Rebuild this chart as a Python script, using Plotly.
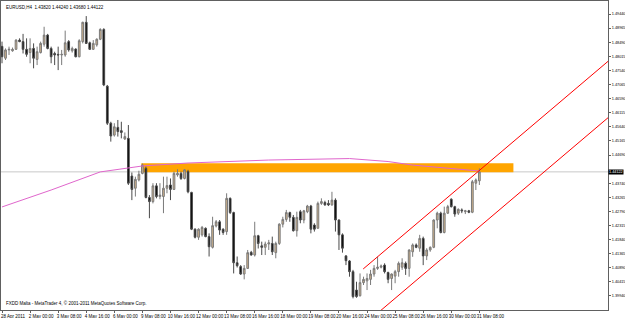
import plotly.graph_objects as go

# ---------------- data (EURUSD H4) ----------------
bars = list(range(137))
open_ = [1.4835,1.4795,1.4823,1.4820,1.4825,1.4856,1.4851,1.4825,1.4814,1.4828,
         1.4791,1.4814,1.4842,1.4873,1.4828,1.4811,1.4808,1.4806,1.4806,1.4851,
         1.4820,1.4826,1.4800,1.4851,1.4916,1.4847,1.4825,1.4840,1.4859,1.4892,
         1.4701,1.4576,1.4536,1.4562,1.4551,1.4523,1.4525,1.4398,1.4357,1.4385,
         1.4407,1.4424,1.4326,1.4312,1.4365,1.4329,1.4329,1.4357,1.4368,1.4353,
         1.4402,1.4407,1.4390,1.4413,1.4343,1.4219,1.4192,1.4200,1.4222,1.4194,
         1.4158,1.4230,1.4244,1.4219,1.4211,1.4323,1.4275,1.4106,1.4093,1.4068,
         1.4087,1.4141,1.4132,1.4197,1.4163,1.4158,1.4169,1.4171,1.4140,1.4171,
         1.4236,1.4252,1.4275,1.4259,1.4214,1.4278,1.4250,1.4278,1.4297,1.4233,
         1.4222,1.4306,1.4309,1.4306,1.4301,1.4317,1.4250,1.4200,1.4129,1.4112,
         1.4076,1.4014,1.3995,1.4039,1.4045,1.4050,1.4068,1.4087,1.4091,1.4098,
         1.4073,1.4053,1.4061,1.4076,1.4091,1.4104,1.4087,1.4143,1.4166,1.4155,
         1.4188,1.4129,1.4149,1.4158,1.4250,1.4273,1.4208,1.4273,1.4320,1.4295,
         1.4273,1.4284,1.4278,1.4281,1.4276,1.4374,1.4382]
high = [1.4851,1.4828,1.4834,1.4831,1.4859,1.4862,1.4877,1.4862,1.4862,1.4845,
        1.4834,1.4851,1.4901,1.4877,1.4834,1.4817,1.4834,1.4823,1.4888,1.4856,
        1.4834,1.4828,1.4859,1.4918,1.4937,1.4851,1.4856,1.4862,1.4896,1.4896,
        1.4705,1.4581,1.4576,1.4587,1.4581,1.4545,1.4570,1.4410,1.4396,1.4416,
        1.4440,1.4430,1.4334,1.4374,1.4374,1.4374,1.4396,1.4396,1.4390,1.4413,
        1.4421,1.4413,1.4421,1.4419,1.4345,1.4222,1.4222,1.4230,1.4225,1.4205,
        1.4261,1.4250,1.4250,1.4222,1.4340,1.4326,1.4278,1.4127,1.4098,1.4098,
        1.4149,1.4146,1.4244,1.4200,1.4177,1.4177,1.4183,1.4194,1.4177,1.4239,
        1.4261,1.4284,1.4278,1.4267,1.4278,1.4284,1.4284,1.4301,1.4301,1.4239,
        1.4312,1.4323,1.4315,1.4317,1.4345,1.4323,1.4252,1.4205,1.4132,1.4115,
        1.4082,1.4042,1.4070,1.4059,1.4070,1.4082,1.4098,1.4126,1.4100,1.4104,
        1.4076,1.4070,1.4082,1.4110,1.4121,1.4110,1.4151,1.4171,1.4171,1.4200,
        1.4194,1.4155,1.4161,1.4252,1.4278,1.4278,1.4295,1.4301,1.4323,1.4298,
        1.4289,1.4289,1.4284,1.4284,1.4385,1.4390,1.4424]
low = [1.4778,1.4789,1.4806,1.4817,1.4823,1.4849,1.4811,1.4800,1.4778,1.4761,
       1.4772,1.4811,1.4834,1.4825,1.4778,1.4772,1.4755,1.4772,1.4800,1.4817,
       1.4814,1.4798,1.4798,1.4845,1.4843,1.4823,1.4823,1.4834,1.4856,1.4701,
       1.4570,1.4514,1.4531,1.4531,1.4525,1.4520,1.4368,1.4317,1.4329,1.4380,
       1.4404,1.4323,1.4256,1.4306,1.4323,1.4320,1.4273,1.4340,1.4317,1.4351,
       1.4396,1.4385,1.4387,1.4340,1.4216,1.4188,1.4183,1.4194,1.4192,1.4127,
       1.4154,1.4225,1.4200,1.4200,1.4200,1.4270,1.4070,1.4090,1.4065,1.4050,
       1.4085,1.4130,1.4127,1.4154,1.4132,1.4132,1.4149,1.4132,1.4121,1.4166,
       1.4225,1.4244,1.4244,1.4211,1.4194,1.4239,1.4239,1.4273,1.4205,1.4211,
       1.4222,1.4301,1.4298,1.4297,1.4298,1.4211,1.4149,1.4140,1.4098,1.4059,
       1.3986,1.3988,1.3992,1.4031,1.4014,1.4031,1.4059,1.4082,1.4087,1.4070,
       1.4037,1.4014,1.4037,1.4059,1.4082,1.4065,1.4059,1.4126,1.4155,1.4143,
       1.4098,1.4115,1.4143,1.4155,1.4222,1.4205,1.4205,1.4270,1.4292,1.4261,
       1.4267,1.4273,1.4270,1.4273,1.4273,1.4351,1.4368]
close = [1.4800,1.4823,1.4825,1.4825,1.4856,1.4851,1.4825,1.4808,1.4828,1.4795,
         1.4817,1.4845,1.4873,1.4828,1.4800,1.4806,1.4806,1.4808,1.4847,1.4823,
         1.4828,1.4800,1.4854,1.4916,1.4845,1.4825,1.4845,1.4859,1.4892,1.4705,
         1.4576,1.4533,1.4564,1.4548,1.4545,1.4531,1.4374,1.4353,1.4387,1.4404,
         1.4435,1.4326,1.4312,1.4365,1.4329,1.4334,1.4357,1.4366,1.4353,1.4407,
         1.4407,1.4390,1.4419,1.4345,1.4219,1.4192,1.4219,1.4225,1.4194,1.4160,
         1.4231,1.4244,1.4216,1.4208,1.4323,1.4275,1.4106,1.4096,1.4068,1.4087,
         1.4140,1.4132,1.4197,1.4171,1.4158,1.4169,1.4173,1.4143,1.4171,1.4236,
         1.4252,1.4275,1.4259,1.4214,1.4259,1.4250,1.4281,1.4297,1.4219,1.4219,
         1.4306,1.4312,1.4301,1.4301,1.4317,1.4250,1.4200,1.4155,1.4113,1.4076,
         1.3992,1.3992,1.4039,1.4050,1.4053,1.4068,1.4087,1.4091,1.4095,1.4076,
         1.4050,1.4068,1.4076,1.4104,1.4106,1.4087,1.4149,1.4166,1.4158,1.4188,
         1.4129,1.4149,1.4158,1.4250,1.4273,1.4208,1.4273,1.4295,1.4295,1.4270,
         1.4286,1.4281,1.4281,1.4276,1.4379,1.4385,1.44122]

# moving average readings (bar index, price)
ma_bars = [0, 14, 28, 40, 53, 76, 99, 110, 117, 127, 136]
ma_vals = [1.4294, 1.4351, 1.4412, 1.4432, 1.4442, 1.4452, 1.4457, 1.4447, 1.4435, 1.4424, 1.4415]

# orange resistance zone
zone_bars = [39.7, 145.7]
zone_prices = [1.44107, 1.44410]

# equidistant channel (start/end bar, prices)
chan_bars = [102.9, 173.2]
chan_upper = [1.4085, 1.4790]
chan_lower = [1.3895, 1.4600]

current_price = 1.44122
title_text = "EURUSD,H4  1.43820 1.44240 1.43680 1.44122"
footer_text = "FXDD Malta - MetaTrader 4, © 2001-2011 MetaQuotes Software Corp."

date_ticks = [0, 8, 16, 24, 32, 40, 48, 56, 64, 72, 80, 88, 96, 104, 112, 120, 128, 136]
date_labels = ["28 Apr 2011", "2 May 00:00", "3 May 08:00", "4 May 16:00", "6 May 00:00",
               "9 May 08:00", "10 May 16:00", "12 May 00:00", "13 May 08:00", "16 May 16:00",
               "18 May 00:00", "19 May 08:00", "20 May 16:00", "24 May 00:00", "25 May 08:00",
               "26 May 16:00", "30 May 00:00", "31 May 08:00"]

price_ticks = [1.49440, 1.48965, 1.48490, 1.48015, 1.47540, 1.47065, 1.46590, 1.46115,
               1.45640, 1.45165, 1.44690, 1.43740, 1.43265, 1.42790, 1.42315, 1.41840,
               1.41365, 1.40890, 1.40415, 1.39940, 1.39465]
price_labels = ["%.5f" % v for v in price_ticks]

FONT = "Liberation Sans"

fig = go.Figure()

fig.add_trace(go.Candlestick(
    x=bars, open=open_, high=high, low=low, close=close,
    increasing=dict(fillcolor="#D2B48C", line=dict(color="#7a7a7a", width=1)),
    decreasing=dict(fillcolor="#000000", line=dict(color="#4a4a4a", width=1)),
    whiskerwidth=0, showlegend=False, hoverinfo="skip"))

fig.add_trace(go.Scatter(x=ma_bars, y=ma_vals, mode="lines",
                         line=dict(color="#E066CC", width=1), showlegend=False, hoverinfo="skip"))

fig.add_trace(go.Scatter(x=chan_bars, y=chan_upper, mode="lines",
                         line=dict(color="#FF0000", width=1), showlegend=False, hoverinfo="skip"))
fig.add_trace(go.Scatter(x=chan_bars, y=chan_lower, mode="lines",
                         line=dict(color="#FF0000", width=1), showlegend=False, hoverinfo="skip"))

fig.add_shape(type="rect", xref="x", yref="y",
              x0=zone_bars[0], x1=zone_bars[1], y0=zone_prices[0], y1=zone_prices[1],
              fillcolor="#FFA500", line=dict(width=0), layer="below")
fig.add_shape(type="line", xref="paper", yref="y", x0=0, x1=1,
              y0=current_price, y1=current_price,
              line=dict(color="#C8C8C8", width=1), layer="below")

fig.add_annotation(xref="paper", yref="paper", x=0, y=1, xanchor="left", yanchor="top",
                   xshift=3, yshift=-2, text=title_text, showarrow=False,
                   font=dict(family=FONT, size=4.5, color="#000000"))
fig.add_annotation(xref="paper", yref="paper", x=0, y=0, xanchor="left", yanchor="bottom",
                   xshift=3, yshift=2, text=footer_text, showarrow=False,
                   font=dict(family=FONT, size=4.5, color="#000000"))
fig.add_annotation(xref="paper", yref="y", x=1, y=current_price, xanchor="left", yanchor="middle",
                   xshift=0, text="%.5f" % current_price, showarrow=False,
                   bgcolor="#000000", borderpad=0,
                   font=dict(family=FONT, size=3.8, color="#FFFFFF"))

fig.update_layout(
    width=625, height=318,
    margin=dict(l=1, r=17, t=1, b=8, autoexpand=False),
    paper_bgcolor="#FFFFFF", plot_bgcolor="#FFFFFF",
    showlegend=False,
    xaxis=dict(range=[-0.285, 172.65], rangeslider=dict(visible=False),
               tickmode="array", tickvals=date_ticks, ticktext=date_labels,
               ticks="outside", ticklen=2, tickcolor="#606060", tickangle=0,
               tickfont=dict(family=FONT, size=4.5, color="#000000"),
               ticklabelshift=11, automargin=False,
               showline=True, linecolor="#606060", linewidth=1, mirror=True,
               showgrid=False, zeroline=False),
    yaxis=dict(side="right", range=[1.39468, 1.49878], automargin=False,
               tickmode="array", tickvals=price_ticks, ticktext=price_labels,
               ticks="outside", ticklen=2, tickcolor="#606060",
               ticklabelstandoff=0,
               tickfont=dict(family=FONT, size=3.8, color="#000000"),
               showline=True, linecolor="#606060", linewidth=1, mirror=True,
               showgrid=False, zeroline=False),
)

fig.write_html("out.html")
